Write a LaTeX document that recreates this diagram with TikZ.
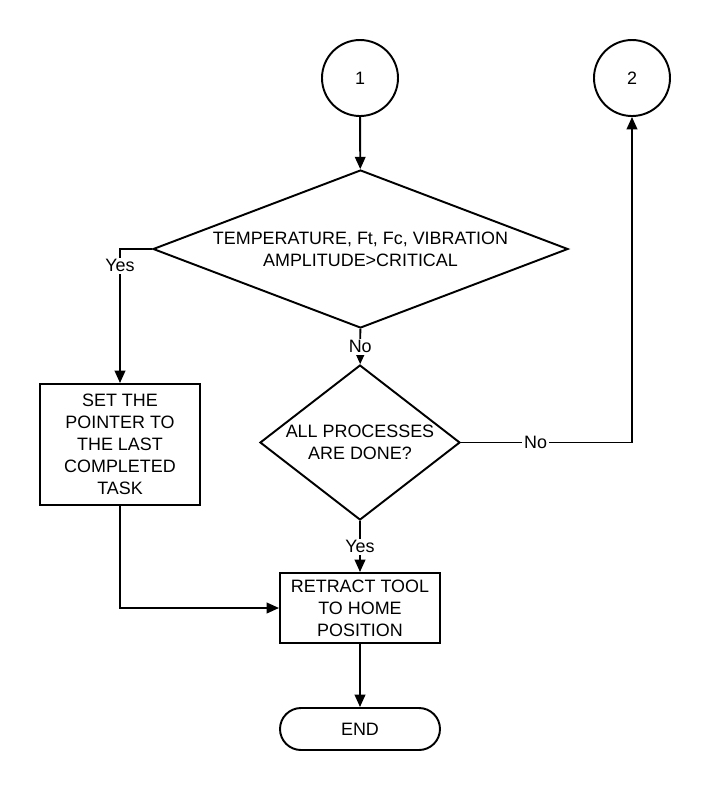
\documentclass[tikz,border=0pt]{standalone}
\usepackage{fontspec}
\setmainfont{Liberation Sans}
\usetikzlibrary{positioning,calc,shapes.geometric,arrows.meta}

\begin{document}
\begin{tikzpicture}[
% Node styles
 base/.style={draw, line width=1.1pt, font=\fontsize{10.2}{12.5}\selectfont, align=center, inner sep=0pt},
 connector/.style={base, circle, minimum size=1.52cm},
 decision/.style={base, diamond},
 process/.style={base, rectangle, minimum width=3.2cm},
 terminal/.style={base, rectangle, rounded corners=0.42cm, minimum width=3.2cm, minimum height=0.84cm},
% Edge styles
 edge/.style={draw, line width=1.1pt, -{Triangle[length=7pt,width=6pt]}},
% Label styles
 lbl/.style={fill=white, inner sep=1pt, font=\fontsize{10.2}{11}\selectfont}
]
\useasboundingbox (0,0) rectangle (14.28,-15.92);

\node[connector] (one) at (7.2,-1.56) {1};
\node[connector] (two) at (12.64,-1.56) {2};

\node[decision, aspect=2.63, minimum width=8.3cm, minimum height=3.16cm] (critical) at (7.21,-4.98)
 {TEMPERATURE, Ft, Fc, VIBRATION\\AMPLITUDE>CRITICAL};
\node[decision, aspect=1.29, minimum width=4cm, minimum height=3.1cm] (done) at (7.2,-8.85)
 {ALL PROCESSES\\ARE DONE?};

\node[process, minimum height=2.42cm] (pointer) at (2.4,-8.89)
 {SET THE\\POINTER TO\\THE LAST\\COMPLETED\\TASK};
\node[process, minimum height=1.4cm] (retract) at (7.2,-12.16)
 {RETRACT TOOL\\TO HOME\\POSITION};
\node[terminal] (end) at (7.2,-14.58) {END};

\draw[edge] (one) -- (critical);
\draw[edge] (critical.west) -| node[lbl, pos=0.563] {Yes} (pointer);
\draw[edge] (critical) -- node[lbl] {No} (done);
\draw[edge] (done.east) -| node[lbl, pos=0.218] {No} (two);
\draw[edge] (done) -- node[lbl] {Yes} (retract);
\draw[edge] (pointer) |- (retract);
\draw[edge] (retract) -- (end);

\end{tikzpicture}
\end{document}
